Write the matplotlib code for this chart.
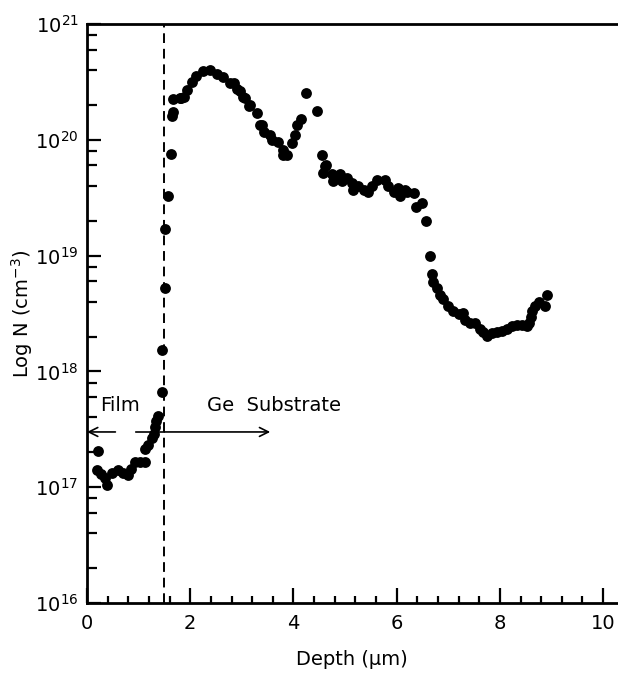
import matplotlib
matplotlib.use("Agg")
import matplotlib.pyplot as plt
from matplotlib.ticker import MultipleLocator, LogLocator, NullFormatter, FixedLocator

# ---- data (depth in um, concentration in cm^-3) ----
depth = [0.21, 0.19, 0.28, 0.35, 0.38, 0.48, 0.61, 0.70, 0.79, 0.86,
         0.93, 1.03, 1.12, 1.12, 1.19, 1.25, 1.29, 1.32, 1.33, 1.38,
         1.45, 1.45, 1.52, 1.52, 1.57, 1.62, 1.64, 1.67, 1.67, 1.80,
         1.83, 1.87, 1.93, 2.03, 2.12, 2.25, 2.38, 2.51, 2.64, 2.77,
         2.84, 2.90, 2.97, 3.03, 3.06, 3.13, 3.16, 3.29, 3.35, 3.39,
         3.42, 3.55, 3.58, 3.71, 3.79, 3.80, 3.87, 3.97, 4.03, 4.07,
         4.14, 4.24, 4.46, 4.55, 4.61, 4.58, 4.64, 4.74, 4.77, 4.90,
         4.94, 5.03, 5.13, 5.16, 5.26, 5.36, 5.45, 5.52, 5.61, 5.78,
         5.84, 5.94, 6.03, 6.07, 6.16, 6.20, 6.33, 6.38, 6.50, 6.56,
         6.65, 6.68, 6.71, 6.78, 6.84, 6.90, 7.00, 7.10, 7.20, 7.29,
         7.33, 7.42, 7.52, 7.62, 7.68, 7.75, 7.84, 7.94, 8.04, 8.13,
         8.23, 8.33, 8.42, 8.52, 8.57, 8.60, 8.62, 8.68, 8.75, 8.88,
         8.92]
conc = [2.07e17, 1.41e17, 1.30e17, 1.20e17, 1.05e17, 1.32e17, 1.41e17, 1.32e17, 1.27e17, 1.45e17,
        1.66e17, 1.66e17, 1.66e17, 2.14e17, 2.30e17, 2.64e17, 2.90e17, 3.30e17, 3.70e17, 4.10e17,
        6.7e17, 1.53e18, 5.3e18, 1.7e19, 3.3e19, 7.6e19, 1.62e20, 1.74e20, 2.26e20, 2.29e20,
        2.29e20, 2.34e20, 2.69e20, 3.16e20, 3.55e20, 3.89e20, 3.98e20, 3.72e20, 3.47e20, 3.09e20,
        3.09e20, 2.75e20, 2.63e20, 2.34e20, 2.29e20, 1.95e20, 2.0e20, 1.70e20, 1.35e20, 1.35e20,
        1.17e20, 1.10e20, 1.0e20, 9.5e19, 7.4e19, 8.1e19, 7.4e19, 9.3e19, 1.10e20, 1.35e20,
        1.51e20, 2.51e20, 1.78e20, 7.4e19, 5.9e19, 5.2e19, 6.0e19, 5.1e19, 4.4e19, 5.1e19,
        4.4e19, 4.7e19, 4.2e19, 3.7e19, 4.0e19, 3.7e19, 3.55e19, 4.0e19, 4.5e19, 4.5e19,
        4.0e19, 3.55e19, 3.8e19, 3.3e19, 3.7e19, 3.55e19, 3.47e19, 2.63e19, 2.82e19, 2.0e19,
        1.0e19, 7.0e18, 5.9e18, 5.2e18, 4.6e18, 4.2e18, 3.7e18, 3.3e18, 3.1e18, 3.2e18,
        2.8e18, 2.6e18, 2.6e18, 2.34e18, 2.19e18, 2.04e18, 2.14e18, 2.19e18, 2.24e18, 2.34e18,
        2.45e18, 2.51e18, 2.51e18, 2.45e18, 2.6e18, 2.95e18, 3.3e18, 3.7e18, 4.0e18, 3.7e18,
        4.6e18]

interface_depth = 1.5
arrow_level = 3.0e17
x_ticks = [0, 2, 4, 6, 8, 10]
y_ticks = [1e16, 1e17, 1e18, 1e19, 1e20, 1e21]
y_tick_labels = [r'$10^{16}$', r'$10^{17}$', r'$10^{18}$', r'$10^{19}$', r'$10^{20}$', r'$10^{21}$']

plt.rcParams['font.family'] = ['DejaVu Sans']
plt.rcParams['mathtext.fontset'] = 'dejavusans'

fig = plt.figure(figsize=(6.18, 6.79), dpi=100)
ax = fig.add_axes([0.1408, 0.1119, 0.8576, 0.8528])

ax.plot(depth, conc, 'o', color='black', markersize=7.8, markeredgewidth=0)

ax.set_yscale('log')
ax.set_xlim(0, 10.27)
ax.set_ylim(1e16, 1e21)

ax.axvline(interface_depth, color='black', lw=1.4, ls=(0, (5, 3)))

# arrows
ax.annotate('', xy=(0.0, arrow_level), xytext=(0.55, arrow_level),
            arrowprops=dict(arrowstyle='->', color='black', lw=1.2,
                            mutation_scale=16, shrinkA=0, shrinkB=0))
ax.plot([0.95, interface_depth], [arrow_level, arrow_level], color='black', lw=1.2)
ax.annotate('', xy=(3.55, arrow_level), xytext=(interface_depth, arrow_level),
            arrowprops=dict(arrowstyle='->', color='black', lw=1.2,
                            mutation_scale=16, shrinkA=0, shrinkB=0))
ax.text(0.25, 5.1e17, 'Film', fontsize=14, va='center', ha='left')
ax.text(2.33, 5.1e17, 'Ge  Substrate', fontsize=14, va='center', ha='left')

# ticks
ax.xaxis.set_major_locator(FixedLocator(x_ticks))
ax.xaxis.set_minor_locator(MultipleLocator(0.4))
ax.set_yticks(y_ticks)
ax.set_yticklabels(y_tick_labels)
ax.yaxis.set_minor_locator(LogLocator(base=10, subs=[2, 4, 6, 8]))
ax.yaxis.set_minor_formatter(NullFormatter())

ax.tick_params(axis='both', which='both', direction='in', width=1.6, colors='black')
ax.tick_params(axis='x', which='major', length=11, labelsize=14, pad=8)
ax.tick_params(axis='x', which='minor', length=5)
ax.tick_params(axis='y', which='major', length=10, labelsize=14, pad=6)
ax.tick_params(axis='y', which='minor', length=7)

for s in ['left', 'bottom', 'top']:
    ax.spines[s].set_linewidth(2.0)
ax.spines['right'].set_visible(False)

ax.set_xlabel('Depth (μm)', fontsize=14, labelpad=12)
ax.set_ylabel(r'Log N (cm$^{-3}$)', fontsize=14, labelpad=0)

fig.savefig('out.png', dpi=100)
